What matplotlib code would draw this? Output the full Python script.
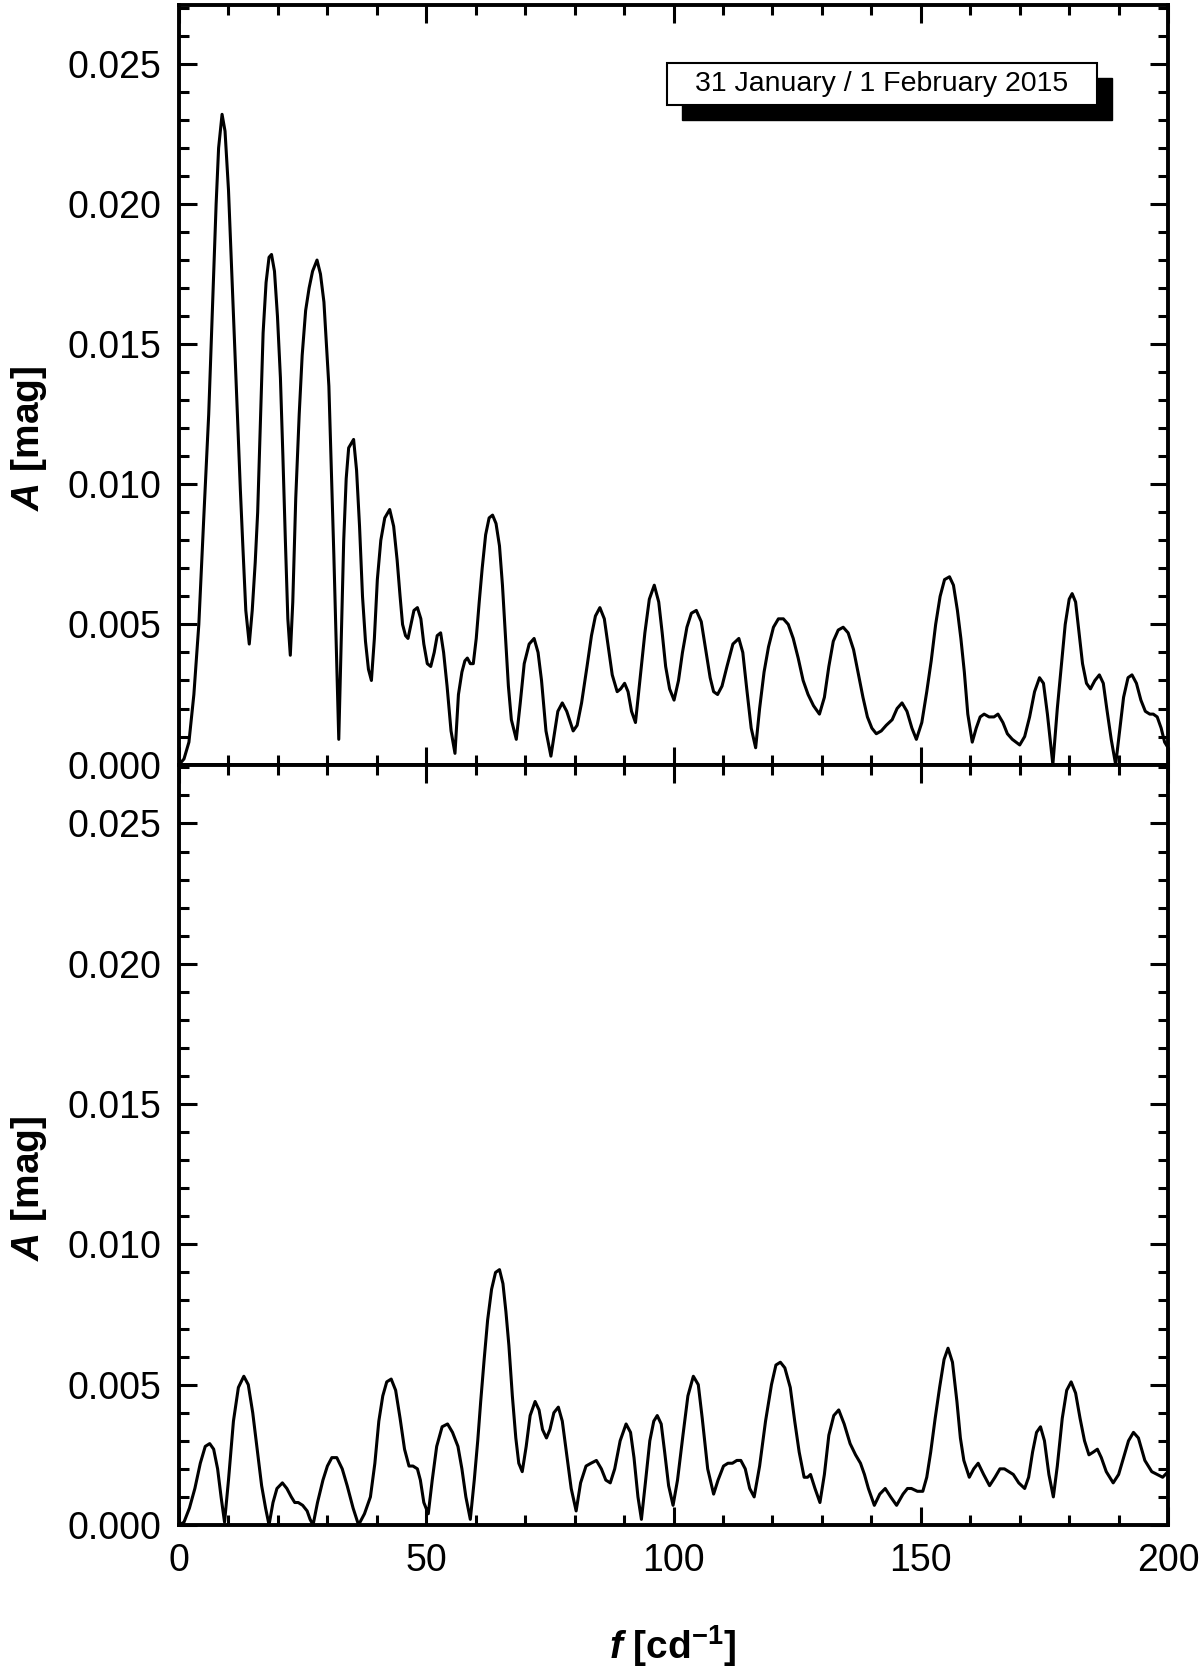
import matplotlib
matplotlib.use("Agg")
import matplotlib.pyplot as plt
from matplotlib.ticker import MultipleLocator, FormatStrFormatter
from matplotlib.patches import Rectangle

plt.rcParams['font.family'] = ['Liberation Sans', 'DejaVu Sans']
plt.rcParams['mathtext.fontset'] = 'custom'
plt.rcParams['mathtext.rm'] = 'Liberation Sans'
plt.rcParams['mathtext.it'] = 'Liberation Sans:italic'
plt.rcParams['mathtext.bf'] = 'Liberation Sans:bold'
plt.rcParams['mathtext.bfit'] = 'Liberation Sans:italic:bold'

########################################
# ----> Data
########################################
# upper panel : amplitude spectrum, 31 Jan / 1 Feb 2015
freq_top = [0.0, 1.0, 2.0, 3.0, 4.0, 5.0, 6.0, 7.0, 7.5, 8.0, 8.7, 9.3, 10.0, 10.5, 11.2, 11.8, 12.4, 12.9, 13.5, 14.2,
	14.8, 15.4, 15.9, 16.5, 17.0, 17.6, 18.2, 18.7, 19.3, 19.9, 20.5, 21.0, 21.5, 22.0, 22.5, 23.0, 23.6, 24.3, 24.9, 25.6,
	26.3, 27.0, 27.9, 28.6, 29.3, 29.8, 30.3, 30.8, 31.3, 31.8, 32.3, 32.8, 33.3, 33.8, 34.3, 35.3, 35.9, 36.5, 37.1, 37.7,
	38.3, 38.9, 39.5, 40.1, 40.8, 41.6, 42.6, 43.4, 44.1, 44.7, 45.2, 45.8, 46.3, 46.9, 47.5, 48.2, 48.9, 49.5, 50.2, 50.9,
	51.6, 52.2, 52.9, 53.5, 54.2, 55.0, 55.8, 56.5, 57.2, 57.8, 58.3, 58.9, 59.5, 60.1, 60.7, 61.3, 62.0, 62.7, 63.4, 64.1,
	64.8, 65.4, 66.0, 66.6, 67.2, 68.2, 69.0, 69.8, 70.8, 71.8, 72.6, 73.3, 74.2, 75.2, 76.0, 76.6, 77.5, 78.4, 79.7, 80.5,
	81.4, 82.5, 83.4, 84.2, 85.1, 86.0, 86.8, 87.6, 88.6, 89.3, 90.1, 90.8, 91.5, 92.3, 93.2, 94.2, 95.1, 96.1, 97.0, 97.7,
	98.4, 99.2, 100.1, 101.0, 101.8, 102.7, 103.6, 104.6, 105.6, 106.5, 107.4, 108.1, 108.9, 109.8, 110.8, 112.0, 113.2, 114.0, 114.8, 115.7,
	116.6, 117.4, 118.3, 119.2, 120.2, 121.2, 122.2, 123.2, 124.2, 125.2, 126.2, 127.2, 128.3, 129.5, 130.5, 131.4, 132.3, 133.3, 134.3, 135.3,
	136.4, 137.4, 138.3, 139.2, 140.1, 141.0, 142.0, 143.0, 144.2, 145.2, 146.2, 147.2, 148.2, 149.1, 150.2, 151.2, 152.1, 153.0, 153.9, 154.8,
	155.8, 156.6, 157.4, 158.1, 158.8, 159.5, 160.4, 161.2, 162.0, 162.8, 163.8, 164.8, 165.6, 166.6, 167.5, 168.5, 170.0, 171.0, 172.0, 173.0,
	174.0, 174.8, 175.6, 176.7, 177.6, 178.4, 179.2, 180.0, 180.6, 181.3, 182.0, 182.7, 183.5, 184.3, 185.2, 186.1, 186.9, 187.6, 188.5, 189.4,
	190.2, 191.0, 191.9, 192.7, 193.6, 194.5, 195.4, 196.3, 197.0, 197.8, 198.6, 199.3, 200.0]
amp_top = [0.0000, 0.0002, 0.0008, 0.0025, 0.0050, 0.0088, 0.0125, 0.0175, 0.0200, 0.0220, 0.0232, 0.0226, 0.0205, 0.0183, 0.0152, 0.0125, 0.0098, 0.0078, 0.0055, 0.0043,
	0.0055, 0.0072, 0.0090, 0.0125, 0.0154, 0.0172, 0.0181, 0.0182, 0.0176, 0.0160, 0.0138, 0.0110, 0.0080, 0.0052, 0.0039, 0.0058, 0.0095, 0.0125, 0.0146, 0.0162,
	0.0170, 0.0176, 0.0180, 0.0175, 0.0165, 0.0150, 0.0135, 0.0105, 0.0075, 0.0042, 0.0009, 0.0045, 0.0080, 0.0102, 0.0113, 0.0116, 0.0105, 0.0085, 0.0060, 0.0044,
	0.0034, 0.0030, 0.0045, 0.0066, 0.0080, 0.0088, 0.0091, 0.0085, 0.0073, 0.0060, 0.0050, 0.0046, 0.0045, 0.0050, 0.0055, 0.0056, 0.0052, 0.0043, 0.0036, 0.0035,
	0.0040, 0.0046, 0.0047, 0.0040, 0.0028, 0.0012, 0.0004, 0.0025, 0.0033, 0.0037, 0.0038, 0.0036, 0.0036, 0.0045, 0.0058, 0.0070, 0.0082, 0.0088, 0.0089, 0.0086,
	0.0078, 0.0064, 0.0046, 0.0028, 0.0016, 0.0009, 0.0022, 0.0036, 0.0043, 0.0045, 0.0040, 0.0030, 0.0012, 0.0003, 0.0012, 0.0019, 0.0022, 0.0019, 0.0012, 0.0014,
	0.0022, 0.0035, 0.0046, 0.0053, 0.0056, 0.0052, 0.0042, 0.0032, 0.0026, 0.0027, 0.0029, 0.0026, 0.0019, 0.0015, 0.0030, 0.0047, 0.0059, 0.0064, 0.0058, 0.0047,
	0.0035, 0.0027, 0.0023, 0.0030, 0.0040, 0.0049, 0.0054, 0.0055, 0.0051, 0.0041, 0.0031, 0.0026, 0.0025, 0.0028, 0.0035, 0.0043, 0.0045, 0.0040, 0.0027, 0.0013,
	0.0006, 0.0020, 0.0033, 0.0042, 0.0049, 0.0052, 0.0052, 0.0050, 0.0045, 0.0038, 0.0030, 0.0025, 0.0021, 0.0018, 0.0024, 0.0035, 0.0044, 0.0048, 0.0049, 0.0047,
	0.0041, 0.0032, 0.0024, 0.0017, 0.0013, 0.0011, 0.0012, 0.0014, 0.0016, 0.0020, 0.0022, 0.0019, 0.0013, 0.0009, 0.0015, 0.0026, 0.0037, 0.0050, 0.0060, 0.0066,
	0.0067, 0.0064, 0.0055, 0.0045, 0.0033, 0.0018, 0.0008, 0.0013, 0.0017, 0.0018, 0.0017, 0.0017, 0.0018, 0.0015, 0.0011, 0.0009, 0.0007, 0.0010, 0.0017, 0.0026,
	0.0031, 0.0029, 0.0018, 0.0000, 0.0020, 0.0035, 0.0050, 0.0059, 0.0061, 0.0058, 0.0047, 0.0036, 0.0029, 0.0027, 0.0030, 0.0032, 0.0029, 0.0020, 0.0009, 0.0000,
	0.0012, 0.0024, 0.0031, 0.0032, 0.0029, 0.0023, 0.0019, 0.0018, 0.0018, 0.0017, 0.0013, 0.0008, 0.0006]

# lower panel : residual spectrum
freq_bot = [0.0, 1.0, 2.1, 3.2, 4.3, 5.3, 6.2, 7.0, 7.8, 8.5, 9.2, 10.0, 11.0, 12.0, 13.1, 14.0, 14.9, 15.8, 16.7, 17.5,
	18.2, 19.0, 19.8, 20.9, 21.8, 22.7, 23.4, 24.1, 25.0, 25.9, 26.5, 27.1, 28.0, 29.1, 30.0, 30.9, 31.9, 33.0, 34.0, 35.2,
	36.3, 37.5, 38.7, 39.6, 40.4, 41.2, 42.0, 42.9, 43.8, 44.7, 45.6, 46.5, 47.3, 48.2, 48.8, 49.5, 50.4, 51.2, 52.1, 53.2,
	54.3, 55.3, 56.4, 57.2, 58.0, 58.9, 59.7, 60.4, 61.0, 61.7, 62.4, 63.2, 64.0, 64.8, 65.5, 66.1, 66.7, 67.4, 68.1, 68.7,
	69.4, 70.2, 71.0, 72.0, 72.8, 73.5, 74.3, 75.0, 75.8, 76.7, 77.5, 78.4, 79.3, 80.3, 81.2, 82.3, 83.3, 84.4, 85.4, 86.3,
	87.2, 88.1, 89.2, 90.4, 91.3, 92.0, 92.8, 93.5, 94.3, 95.2, 96.0, 96.7, 97.5, 98.2, 99.0, 99.9, 100.8, 101.9, 102.9, 104.0,
	105.0, 105.8, 106.9, 108.1, 109.0, 110.1, 111.0, 111.9, 112.8, 113.6, 114.5, 115.4, 116.3, 117.4, 118.6, 119.8, 120.7, 121.6, 122.5, 123.6,
	124.5, 125.4, 126.4, 127.1, 127.7, 128.6, 129.6, 130.5, 131.4, 132.4, 133.4, 134.5, 135.7, 136.8, 137.8, 138.6, 139.4, 140.6, 141.7, 142.8,
	143.9, 145.1, 146.4, 147.3, 148.1, 149.3, 150.4, 151.2, 152.0, 152.9, 153.8, 154.7, 155.5, 156.4, 157.3, 158.0, 158.7, 159.8, 160.7, 161.6,
	162.7, 163.9, 165.0, 166.0, 166.9, 167.8, 168.7, 169.8, 171.0, 171.8, 172.6, 173.4, 174.2, 175.0, 175.9, 176.8, 177.6, 178.6, 179.5, 180.4,
	181.3, 182.2, 183.1, 184.0, 184.9, 185.7, 186.5, 187.5, 188.9, 190.0, 191.0, 192.0, 193.0, 194.0, 195.3, 196.7, 197.8, 198.9, 200.0]
amp_bot = [0.0000, 0.0001, 0.0006, 0.0013, 0.0022, 0.0028, 0.0029, 0.0027, 0.0020, 0.0010, 0.0001, 0.0016, 0.0037, 0.0049, 0.0053, 0.0050, 0.0040, 0.0027, 0.0014, 0.0006,
	0.0000, 0.0008, 0.0013, 0.0015, 0.0013, 0.0010, 0.0008, 0.0008, 0.0007, 0.0005, 0.0002, 0.0000, 0.0008, 0.0016, 0.0021, 0.0024, 0.0024, 0.0020, 0.0014, 0.0006,
	0.0000, 0.0004, 0.0010, 0.0022, 0.0037, 0.0046, 0.0051, 0.0052, 0.0048, 0.0038, 0.0027, 0.0021, 0.0021, 0.0020, 0.0016, 0.0008, 0.0004, 0.0016, 0.0028, 0.0035,
	0.0036, 0.0033, 0.0028, 0.0020, 0.0010, 0.0002, 0.0016, 0.0030, 0.0044, 0.0059, 0.0073, 0.0084, 0.0090, 0.0091, 0.0086, 0.0076, 0.0064, 0.0046, 0.0031, 0.0022,
	0.0019, 0.0028, 0.0039, 0.0044, 0.0041, 0.0034, 0.0031, 0.0034, 0.0040, 0.0042, 0.0037, 0.0025, 0.0013, 0.0005, 0.0015, 0.0021, 0.0022, 0.0023, 0.0020, 0.0016,
	0.0015, 0.0020, 0.0030, 0.0036, 0.0033, 0.0024, 0.0010, 0.0002, 0.0015, 0.0030, 0.0037, 0.0039, 0.0036, 0.0026, 0.0014, 0.0007, 0.0016, 0.0032, 0.0046, 0.0053,
	0.0050, 0.0038, 0.0020, 0.0011, 0.0016, 0.0021, 0.0022, 0.0022, 0.0023, 0.0023, 0.0020, 0.0013, 0.0010, 0.0021, 0.0037, 0.0050, 0.0057, 0.0058, 0.0056, 0.0049,
	0.0037, 0.0026, 0.0017, 0.0017, 0.0018, 0.0013, 0.0008, 0.0018, 0.0032, 0.0039, 0.0041, 0.0036, 0.0029, 0.0025, 0.0022, 0.0018, 0.0013, 0.0007, 0.0011, 0.0013,
	0.0010, 0.0007, 0.0011, 0.0013, 0.0013, 0.0012, 0.0012, 0.0017, 0.0026, 0.0038, 0.0049, 0.0059, 0.0063, 0.0058, 0.0044, 0.0031, 0.0023, 0.0017, 0.0020, 0.0022,
	0.0018, 0.0014, 0.0017, 0.0020, 0.0020, 0.0019, 0.0018, 0.0015, 0.0013, 0.0017, 0.0026, 0.0033, 0.0035, 0.0030, 0.0018, 0.0010, 0.0021, 0.0038, 0.0048, 0.0051,
	0.0047, 0.0038, 0.0030, 0.0025, 0.0026, 0.0027, 0.0024, 0.0019, 0.0015, 0.0018, 0.0024, 0.0030, 0.0033, 0.0031, 0.0023, 0.0019, 0.0018, 0.0017, 0.0019]

date_label = "31 January / 1 February 2015"

########################################
# ----> Figure and panels
########################################
fig = plt.figure(figsize=(12, 16.69), dpi=100, facecolor="white")
ax_top = fig.add_axes([0.1492, 0.5419, 0.8242, 0.4551])
ax_bot = fig.add_axes([0.1492, 0.0863, 0.8242, 0.4556])

for ax, f, a in [(ax_top, freq_top, amp_top), (ax_bot, freq_bot, amp_bot)]:
	ax.plot(f, a, color="black", linewidth=2.2, solid_joinstyle="round")
	ax.set_xlim(0, 200)
	ax.set_ylim(0, 0.0271)
	ax.xaxis.set_major_locator(MultipleLocator(50))
	ax.xaxis.set_minor_locator(MultipleLocator(10))
	ax.yaxis.set_major_locator(MultipleLocator(0.005))
	ax.yaxis.set_minor_locator(MultipleLocator(0.001))
	ax.yaxis.set_major_formatter(FormatStrFormatter("%.3f"))
	ax.tick_params(which="both", direction="in", top=True, right=True, width=2.2)
	ax.tick_params(which="major", length=13, labelsize=27, pad=13)
	ax.tick_params(which="minor", length=7)
	for sp in ax.spines.values():
		sp.set_linewidth(2.8)

ax_top.tick_params(labelbottom=False)

# date box with drop shadow
bx, by, bw, bh = 0.4934, 0.8683, 0.4348, 0.0553
ax_top.add_patch(Rectangle((bx + 0.0152, by - 0.0198), bw, bh, transform=ax_top.transAxes,
	facecolor="black", edgecolor="black", zorder=5))
ax_top.add_patch(Rectangle((bx, by), bw, bh, transform=ax_top.transAxes,
	facecolor="white", edgecolor="black", linewidth=1.5, zorder=6))
ax_top.text(bx + bw / 2, by + bh / 2, date_label, transform=ax_top.transAxes,
	ha="center", va="center", fontsize=20.5, zorder=7)

# axis labels
ylab = r"$\mathbfit{A}$ [mag]"
fig.text(0.024, 0.7376, ylab, rotation=90, ha="center", va="center", fontsize=28, fontweight="bold")
fig.text(0.024, 0.2882, ylab, rotation=90, ha="center", va="center", fontsize=28, fontweight="bold")
fig.text(0.5608, 0.0135, r"$\mathbfit{f}$ [cd$^{\mathbf{-1}}$]", ha="center", va="center",
	fontsize=28, fontweight="bold")

fig.savefig("out.png", dpi=100, facecolor="white")
